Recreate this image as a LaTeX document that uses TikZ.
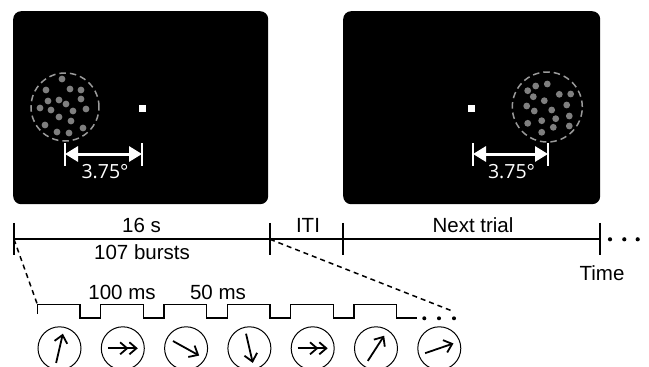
\documentclass[tikz,border=0pt]{standalone}
\usepackage{fontspec}
\setmainfont{Liberation Sans}
\newfontfamily\degfont{Open Sans}
\usetikzlibrary{arrows.meta}
\definecolor{dotgray}{HTML}{7F7F7F}
\definecolor{ringgray}{HTML}{9A9A9A}
\begin{document}
\begin{tikzpicture}[x=1pt,y=-1pt,
  screen/.style={fill=black, rounded corners=8pt, inner sep=0pt, anchor=north west},
  ring/.style={draw=ringgray, line width=1.5pt, dash pattern=on 6.5pt off 4pt},
  fixsq/.style={fill=white, inner sep=0pt, minimum size=7pt},
  measure/.style={draw=white, line width=3pt, {Triangle[length=13pt,width=15pt]}-{Triangle[length=13pt,width=15pt]}},
  mtick/.style={draw=white, line width=1.1pt},
  deglabel/.style={text=white, anchor=base, font=\degfont\fontsize{19.5}{22}\selectfont},
  tline/.style={draw=black, line width=1.8pt},
  tlabel/.style={anchor=base, font=\fontsize{20.5}{23}\selectfont, inner sep=0pt},
  zoomline/.style={draw=black, line width=1.5pt, dash pattern=on 5pt off 4pt},
  wave/.style={draw=black, line width=1.6pt},
  aperture/.style={draw=black, line width=1pt, circle, minimum size=43pt, inner sep=0pt},
  motion/.style={draw=black, line width=1.8pt, -{Straight Barb[length=7.5pt,width=13pt]}},
  fastmotion/.style={draw=black, line width=1.8pt, -{Straight Barb[length=7pt,width=12pt] Straight Barb[length=7pt,width=12pt]}}
]
\useasboundingbox (0,0) rectangle (649,367);

% ---- the two stimulus screens ----
\node[screen, minimum width=255pt, minimum height=193pt] (scrA) at (13,11) {};
\node[screen, minimum width=257pt, minimum height=193pt] (scrB) at (343,11) {};

% fixation squares
\node[fixsq] (fixA) at (142,108) {};
\node[fixsq] (fixB) at (471.2,108) {};

% dot fields (left screen)
\node[ring, circle, minimum size=68pt, inner sep=0pt] (apA) at (65,107) {};
\foreach \x/\y in {62/79,46/90,70/89,81/90,48/101,59/100,81/99,40/108,51/110,
                   66/104,73/111,86/109,59/117,71/121,45/125,57/132,69/133,83/128}
  \fill[dotgray] (\x,\y) circle (3.4pt);

% dot fields (right screen)
\node[ring, circle, minimum size=70pt, inner sep=0pt] (apB) at (547.3,107) {};
\foreach \x/\y in {527.7/90.7,535.7/86,547.3/84,533.3/96.7,559.3/94.3,570.7/94,
                   544.3/100.7,526.7/106,534.3/111,551.7/110,566.7/105,541.7/120.7,
                   555.7/118.7,569.3/116,527.7/123.3,553.3/127.3,569.3/126,541.7/132.3}
  \fill[dotgray] (\x,\y) circle (3.4pt);

% eccentricity markers
\coordinate (mA1) at (65,154);
\coordinate (mA2) at (142,154);
\coordinate (mB1) at (473,154);
\coordinate (mB2) at (548,154);
\draw[measure] (mA1) -- (mA2);
\draw[measure] (mB1) -- (mB2);
\foreach \m in {mA1,mA2,mB1,mB2}
  \draw[mtick] ([yshift=11pt]\m) -- ([yshift=-12pt]\m);
\node[deglabel] (degA) at (105,178.3) {3.75°};
\node[deglabel] (degB) at (511.5,178.3) {3.75°};

% ---- time line ----
\coordinate (t0) at (14,239.3);
\coordinate (t1) at (270,239.3);
\coordinate (t2) at (342.7,239.3);
\coordinate (t3) at (600,239.3);
\draw[tline] (t0) -- (t3);
\foreach \t in {t0,t1,t2,t3}
  \draw[tline] ([yshift=16.5pt]\t) -- ([yshift=-16pt]\t);
\foreach \i/\x in {1/610,2/624.3,3/637.7}
  \fill (\x,239.3) circle (2.1pt);

\node[tlabel] (lbTrial) at (141.5,232) {16 s};
\node[tlabel] (lbBursts) at (142,259.3) {107 bursts};
\node[tlabel] (lbITI) at (308,232) {ITI};
\node[tlabel] (lbNext) at (473,232) {Next trial};
\node[tlabel] (lbTime) at (602,280) {Time};

% ---- burst sequence ----
\coordinate (w0) at (37.3,304.3);
\coordinate (wEnd) at (454,311.7);
\draw[zoomline] (t0) -- (w0);
\draw[zoomline] (t1) -- (wEnd);

\draw[wave] (37.3,314) -- (w0) -- (80,304.3) -- (80,317.7) -- (100.6,317.7)
  -- (100.6,304.3) -- (143.3,304.3) -- (143.3,317.7) -- (163.9,317.7)
  -- (163.9,304.3) -- (206.6,304.3) -- (206.6,317.7) -- (227.3,317.7)
  -- (227.3,304.3) -- (270,304.3) -- (270,317.7) -- (290.6,317.7)
  -- (290.6,304.3) -- (333.3,304.3) -- (333.3,317.7) -- (353.9,317.7)
  -- (353.9,304.3) -- (396.6,304.3) -- (396.6,317.7) -- (417.3,317.7);
\foreach \x in {424.3,439,454}
  \fill (\x,318.3) circle (2pt);

\node[tlabel] (lbOn) at (122,299.3) {100 ms};
\node[tlabel] (lbOff) at (218,299.3) {50 ms};

% apertures with the motion direction of each burst
\foreach \k/\ang/\kind in {1/77/motion,2/0/fastmotion,3/-29/motion,4/-77/motion,
                           5/0/fastmotion,6/57/motion,7/19/motion} {
  \node[aperture] (ap\k) at ({59.5+63.3*(\k-1)},348.3) {};
  \draw[\kind] ([shift={(\ang+180:15pt)}]ap\k.center) -- ([shift={(\ang:15pt)}]ap\k.center);
}
\end{tikzpicture}
\end{document}
